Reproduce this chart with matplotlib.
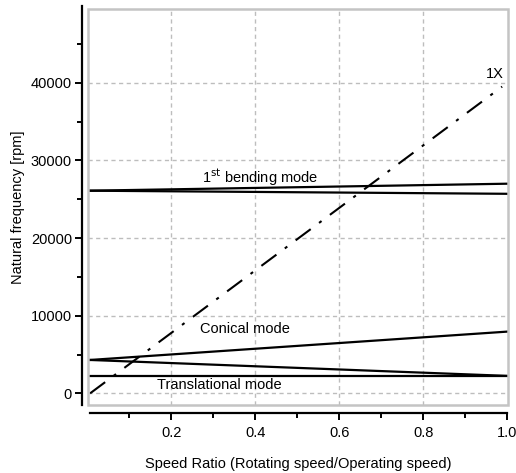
import matplotlib
matplotlib.use("Agg")
import matplotlib.pyplot as plt
from matplotlib.patches import Rectangle
from matplotlib.ticker import MultipleLocator

plt.rcParams['font.family'] = ['Liberation Sans', 'DejaVu Sans']

# speed ratio at start / end of each curve
speed = [0.007, 1.0]

# natural frequencies [rpm]
bending_fw = [26100, 27000]
bending_bw = [26100, 25700]
conical_fw = [4300, 7950]
conical_bw = [4300, 2250]
transl = [2250, 2250]

# 1X excitation line
one_x_speed = [0.007, 0.988]
one_x_rpm = [0, 39500]

xticks = [0.2, 0.4, 0.6, 0.8, 1.0]
yticks = [0, 10000, 20000, 30000, 40000]

fig = plt.figure(figsize=(5.16, 4.73), dpi=100)
ax = fig.add_axes([88 / 516, 68 / 473, 420 / 516, 396 / 473])

lw = 1.6
ax.plot(speed, bending_fw, color='black', lw=lw)
ax.plot(speed, bending_bw, color='black', lw=lw)
ax.plot(speed, conical_fw, color='black', lw=lw)
ax.plot(speed, conical_bw, color='black', lw=lw)
ax.plot(speed, transl, color='black', lw=lw)
ax.plot(one_x_speed, one_x_rpm, color='black', lw=1.5,
        dashes=(9, 5, 1.5, 5))

ax.set_xlim(0.002, 1.002)
ax.set_ylim(-1500, 49500)

ax.set_xticks(xticks)
ax.set_xticklabels(['0.2', '0.4', '0.6', '0.8', '1.0'])
ax.set_yticks(yticks)
ax.xaxis.set_minor_locator(MultipleLocator(0.1))
ax.yaxis.set_minor_locator(MultipleLocator(5000))

# dashed grid on major ticks only
for x in xticks[:-1]:
    ax.axvline(x, color='#bdbdbd', lw=1.0, dashes=(3, 2.5), zorder=0)
for y in yticks:
    ax.axhline(y, color='#bdbdbd', lw=1.0, dashes=(3, 2.5), zorder=0)

# light grey box around the plot area, black offset axes
ax.add_patch(Rectangle((0, 0), 1, 1, transform=ax.transAxes, fill=False,
                       ec='#c4c4c4', lw=1.8, clip_on=False, zorder=5))
for side in ['top', 'right']:
    ax.spines[side].set_visible(False)
ax.spines['left'].set_position(('outward', 4.5))
ax.spines['bottom'].set_position(('outward', 6))
ax.spines['left'].set_linewidth(1.6)
ax.spines['bottom'].set_linewidth(1.6)
ax.spines['left'].set_bounds(-1500, 49900)
ax.spines['bottom'].set_bounds(0.007, 1.0)

ax.tick_params(which='major', direction='out', length=5, width=1.4,
               labelsize=10.5, colors='black')
ax.tick_params(which='minor', direction='out', length=3.5, width=1.4)
ax.tick_params(axis='y', which='major', pad=2)
ax.tick_params(axis='x', which='major', pad=4)

ax.set_xlabel('Speed Ratio (Rotating speed/Operating speed)', fontsize=10.5,
              labelpad=12)
ax.set_ylabel('Natural frequency [rpm]', fontsize=10.5, labelpad=4)

fs = 10.5
ax.text(0.412, 27900, r'1$^{\mathrm{st}}$ bending mode', fontsize=fs,
        ha='center', va='center')
ax.text(0.375, 8300, 'Conical mode', fontsize=fs, ha='center', va='center')
ax.text(0.315, 1050, 'Translational mode', fontsize=fs, ha='center',
        va='center')
ax.text(0.971, 41100, '1X', fontsize=fs, ha='center', va='center')

fig.savefig('out.png', dpi=100)
